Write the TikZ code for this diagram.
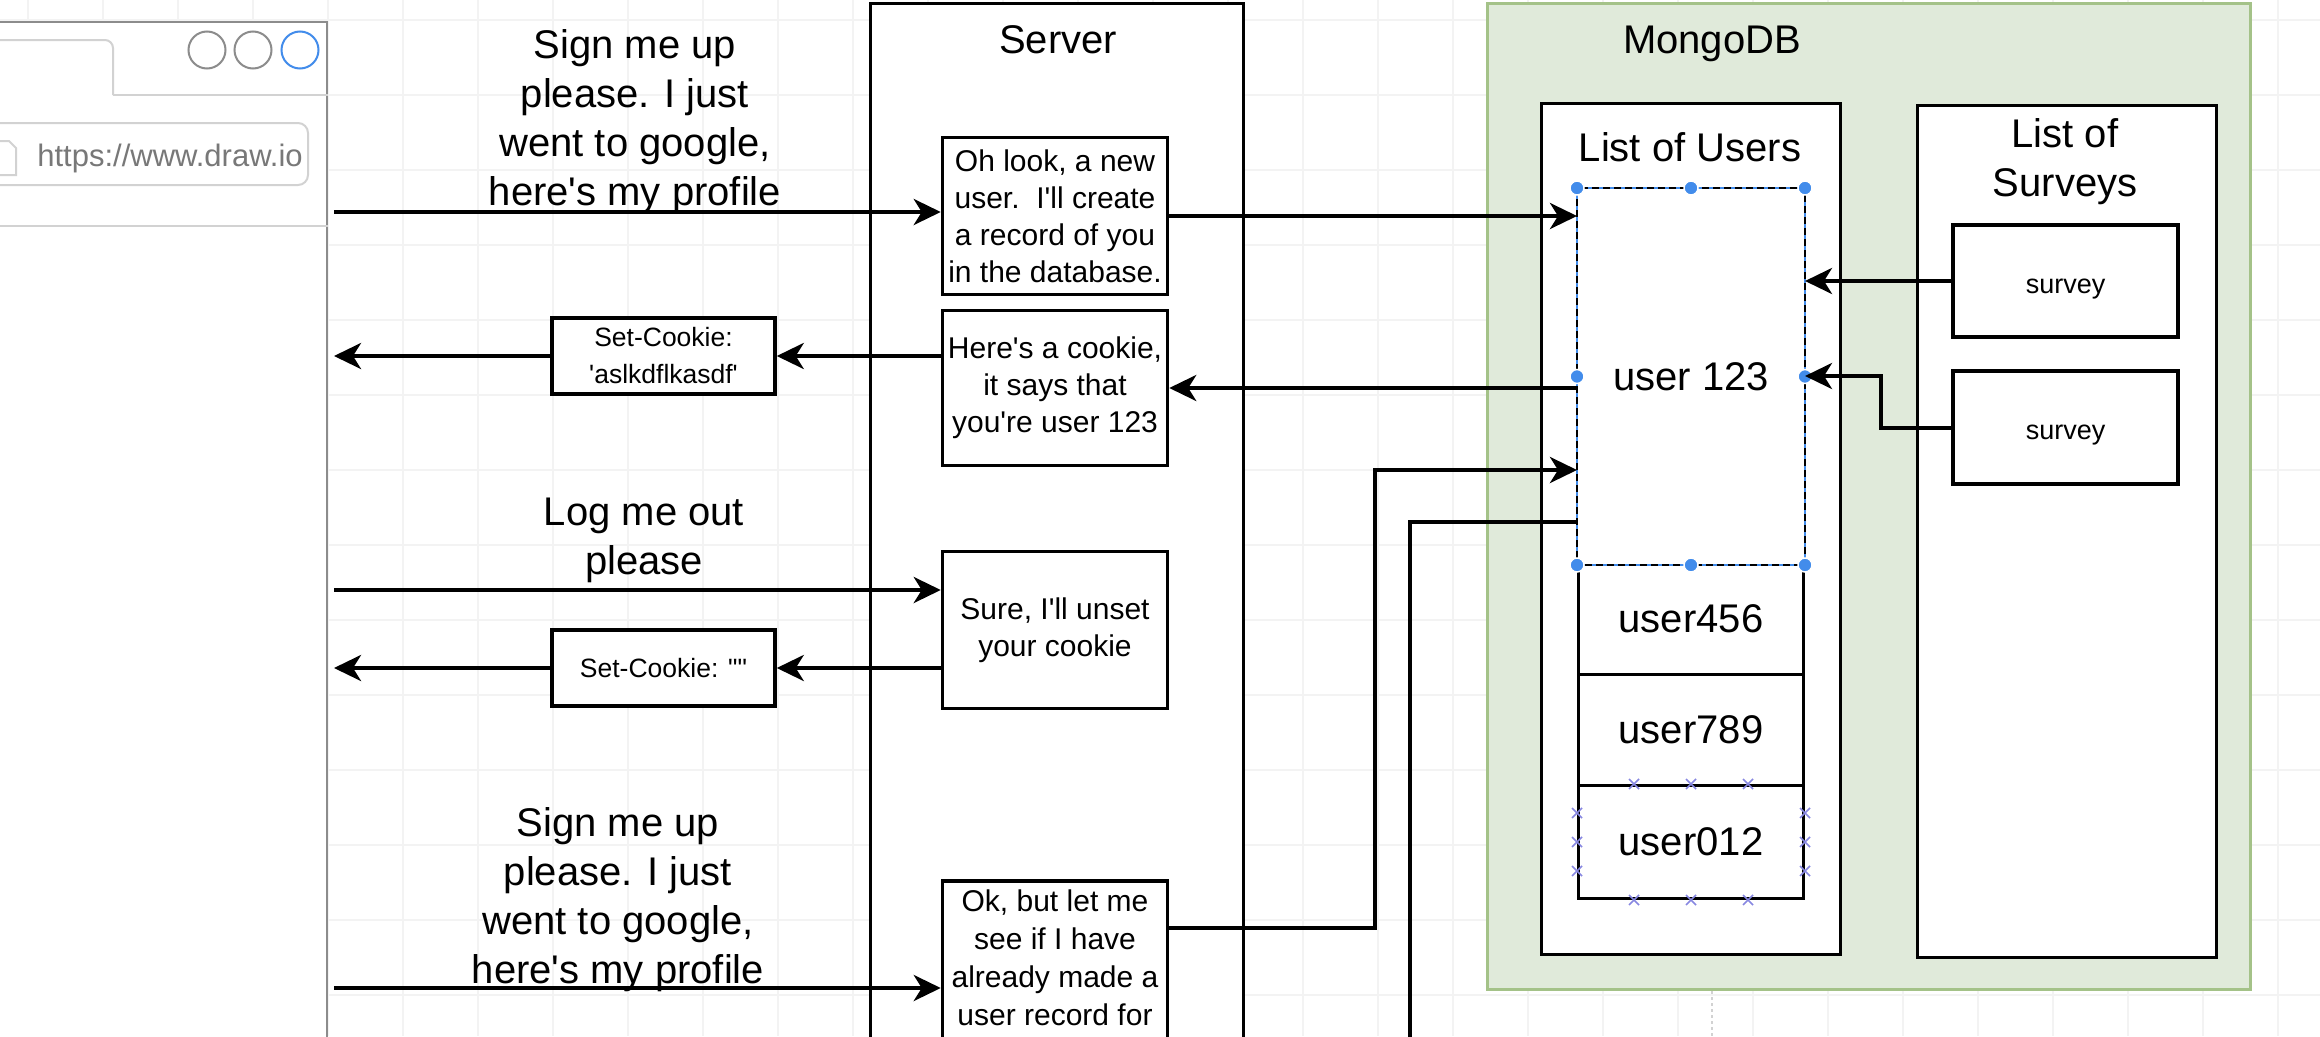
\documentclass[tikz,border=0pt]{standalone}
\usepackage{fontspec}
\setmainfont{Liberation Sans}[Ligatures=TeXOff]
\usetikzlibrary{calc,arrows.meta}
\definecolor{mongofill}{RGB}{224,234,218}
\definecolor{mongoline}{RGB}{164,194,136}
\definecolor{selblue}{RGB}{66,140,235}
\definecolor{hoverx}{RGB}{135,135,225}
\definecolor{chrome}{RGB}{140,140,140}
\definecolor{chromelt}{RGB}{210,210,210}
\definecolor{urlgray}{RGB}{120,120,120}
\definecolor{gridline}{RGB}{243,243,243}
\def\bigtext{\fontsize{40}{49}\selectfont}
\def\boxtext{\fontsize{30}{37}\selectfont}
\def\cookietext{\fontsize{26.5}{37}\selectfont}
\def\msgbox{\node[draw=black,line width=3.5,fill=white,align=center,inner sep=0,minimum width=225,font=\boxtext]}
\def\rowbox{\node[draw=black,line width=3,fill=white,inner sep=0,minimum width=225,anchor=north west,font=\bigtext]}
\def\xmark#1{\draw[hoverx,line width=1.5] ($(#1)+(-5,-5)$) -- ($(#1)+(5,5)$) ($(#1)+(-5,5)$) -- ($(#1)+(5,-5)$);}
\tikzset{arr/.style={line width=4,-{Stealth[length=27pt,width=26pt,inset=8pt]}},
  wire/.style={line width=4},
  listbox/.style={draw=black,line width=3,fill=white,inner sep=0,anchor=north west}}

\begin{document}
\begin{tikzpicture}[x=1pt,y=-1pt]
\useasboundingbox (0,0) rectangle (2320,1036);
\clip (0,0) rectangle (2320,1036);
\foreach \i in {28,103,...,2320} \draw[gridline,line width=1.5] (\i,0) -- (\i,1036);
\foreach \j in {20,95,...,1036} \draw[gridline,line width=1.5] (0,\j) -- (2320,\j);

% browser
\node[draw=chrome,line width=2,fill=white,inner sep=0,minimum width=340,minimum height=1100,anchor=north east] (browser) at (328,21) {};
\draw[chromelt,line width=2,rounded corners=8] (-5,40) -- (113,40) -- (113,95);
\draw[chromelt,line width=2] (113,95) -- (browser.east |- 0,95);
\foreach \n/\cx/\col in {b1/207/chrome,b2/253/chrome,b3/300/selblue}
  \node[circle,draw=\col,line width=2,inner sep=0,minimum size=37] (\n) at (\cx,50) {};
\node[draw=chromelt,line width=2,rounded corners=10,inner sep=0,minimum width=330,minimum height=62,anchor=east] (url) at (309,154) {};
\draw[chromelt,line width=2] (-5,141) -- (9,141) -- (16,148) -- (16,175) -- (-5,175);
\node[text=urlgray,font=\fontsize{31}{36}\selectfont] (urltext) at (170,158) {https://www.draw.io};
\draw[chromelt,line width=2] (-5,226) -- (browser.east |- 0,226);

% server
\node[listbox,minimum width=373,minimum height=1100] (server) at (868.5,1.5) {};
\node[font=\bigtext] (servertitle) at (1058,40) {Server};
\msgbox[minimum height=157] (oh) at (1055,216) {Oh look, a new\\user.\ \ I'll create\\a record of you\\in the database.};
\msgbox[minimum height=155] (heres) at (1055,388) {Here's a cookie,\\it says that\\you're user 123};
\msgbox[minimum height=157] (sure) at (1055,630) {Sure, I'll unset\\your cookie};
\msgbox[minimum height=230,anchor=north] (ok) at (1055,879) {};
\node[font=\fontsize{30}{38}\selectfont,align=center,anchor=north] (oktext) at (1055,886) {Ok, but let me\\see if I have\\already made a\\user record for};
\msgbox[minimum width=223,minimum height=76,font=\cookietext] (ck1) at (663.5,356) {Set-Cookie:\\'aslkdflkasdf'};
\msgbox[minimum width=223,minimum height=76,font=\cookietext] (ck2) at (663.5,668) {Set-Cookie: ""};

\node[font=\bigtext,align=center] (ask1) at (635,122) {Sign me up\\please. I just\\went to google,\\here's my profile};
\node[font=\bigtext,align=center] (ask2) at (644,540) {Log me out\\please};
\node[font=\bigtext,align=center] (ask3) at (618,900) {Sign me up\\please. I just\\went to google,\\here's my profile};

% mongo
\node[draw=mongoline,fill=mongofill,line width=3,inner sep=0,minimum width=763,minimum height=986,anchor=north west] (mongo) at (1486,2) {};
\node[font=\bigtext] (mongotitle) at (1712,44) {MongoDB};
\draw[gray!35,dashed,line width=1.5] (mongotitle |- mongo.south) -- (mongotitle |- 0,1040);
\node[listbox,minimum width=299,minimum height=851] (users) at (1540,102) {};
\node[font=\bigtext] (userstitle) at (1690,147) {List of Users};
\node[listbox,minimum width=299,minimum height=852] (surveys) at (1916,104) {};
\node[font=\bigtext,align=center] (surveystitle) at (2065,162) {List of\\Surveys};
\rowbox[minimum height=111] (u456) at (1577,562) {user456};
\rowbox[minimum height=111] (u789) at (1577,673) {user789};
\rowbox[minimum height=113] (u012) at (1577,784) {user012};
\rowbox[draw=none,minimum height=374] (u123) at (1577,188) {user 123};
\draw[selblue,line width=2] (u123.north west) rectangle (u123.south east);
\draw[black,line width=2,dash pattern=on 7 off 4] (u123.north west) rectangle (u123.south east);
\foreach \a in {north west,north,north east,east,south east,south,south west,west}
  \fill[selblue,draw=white,line width=1.5] (u123.\a) circle[radius=7];
\foreach \f in {0.25,0.5,0.75} {
  \xmark{$(u012.north west)!\f!(u012.north east)$}
  \xmark{$(u012.south west)!\f!(u012.south east)$}
  \xmark{$(u012.north west)!\f!(u012.south west)$}
  \xmark{$(u012.north east)!\f!(u012.south east)$}
}
\msgbox[minimum height=112,font=\fontsize{27}{33}\selectfont,text height=28pt,text depth=4pt] (sv1) at (2065.5,281) {survey};
\msgbox[minimum height=113,font=\fontsize{27}{33}\selectfont,text height=28pt,text depth=4pt] (sv2) at (2065.5,427.5) {survey};

% connectors
\coordinate (in1) at (334,212);
\coordinate (in2) at (334,590);
\coordinate (in3) at (334,988);
\coordinate (out1) at (334,356);
\coordinate (out2) at (334,668);
\coordinate (bend1) at (1374.5,470);
\coordinate (bend2) at (1880.5,376);
\coordinate (down) at (1410,1050);
\draw[arr] (in1) -- (in1 -| oh.west);
\draw[arr] (oh.east) -- (oh.east -| u123.west);
\draw[arr] (heres.east -| u123.west) -- (heres.east);
\draw[arr] (heres.west |- ck1.east) -- (ck1.east);
\draw[arr] (ck1.west) -- (out1);
\draw[arr] (in2) -- (in2 -| sure.west);
\draw[arr] (sure.west |- ck2.east) -- (ck2.east);
\draw[arr] (ck2.west) -- (out2);
\draw[arr] (in3) -- (in3 -| ok.west);
\draw[arr] (ok.east |- 0,928) -| (bend1) -- (bend1 -| u123.west);
\draw[wire] (u123.west |- 0,522) -| (down);
\draw[arr] (sv1.west) -- (sv1.west -| u123.east);
\draw[arr] (sv2.west) -| (bend2) -- (bend2 -| u123.east);
\end{tikzpicture}
\end{document}
